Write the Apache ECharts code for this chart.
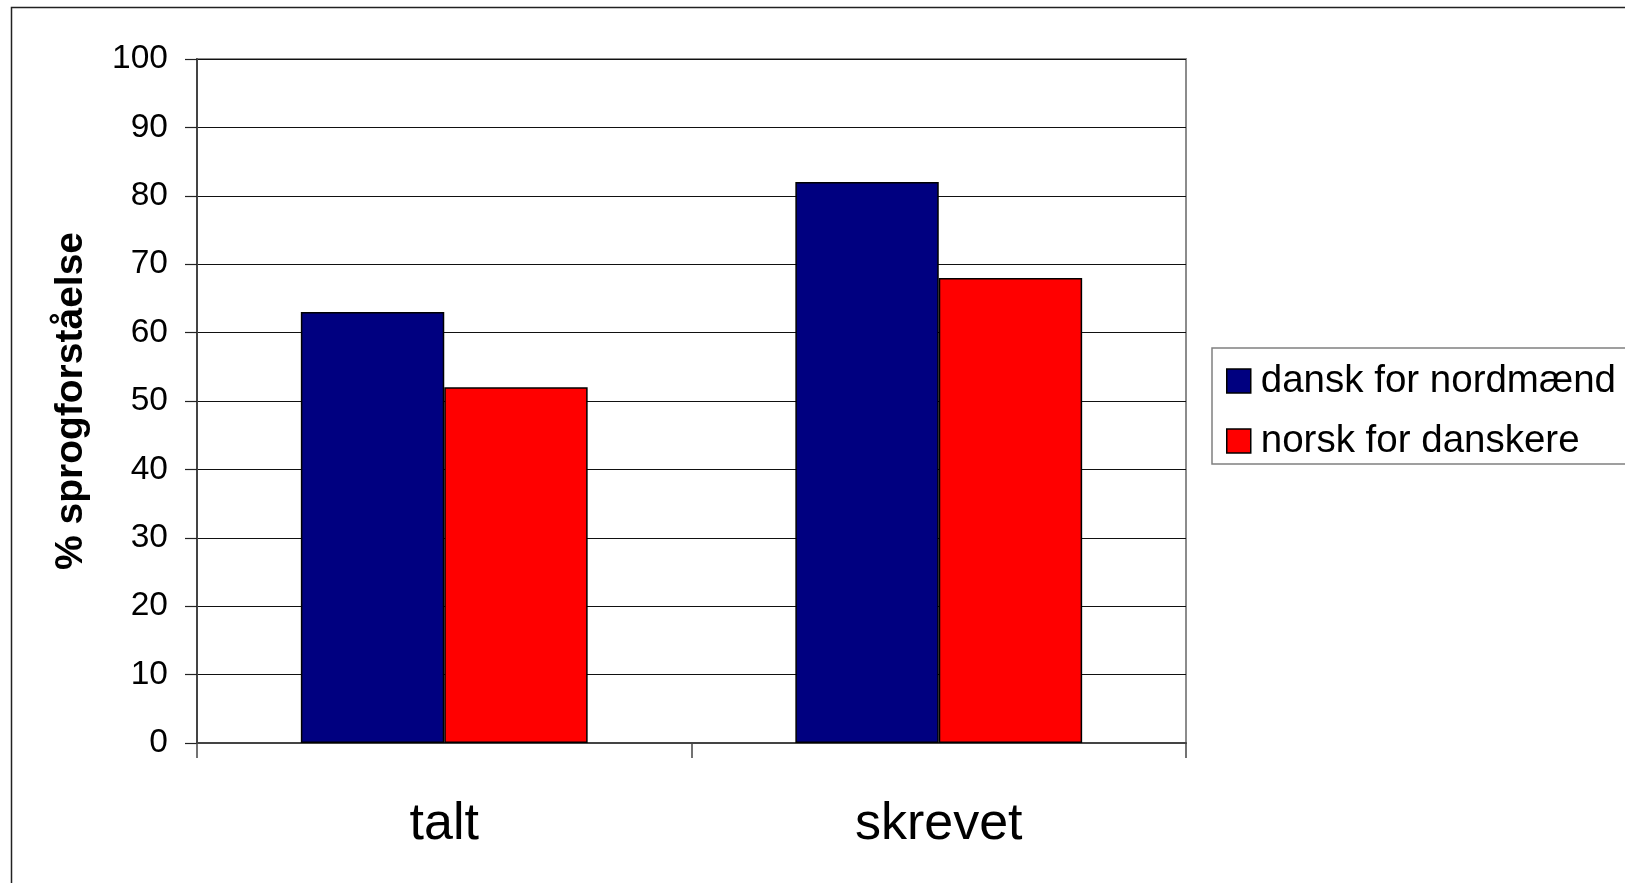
<!DOCTYPE html>
<html>
<head>
<meta charset="utf-8">
<script src="https://cdn.jsdelivr.net/npm/echarts@6/dist/echarts.min.js"></script>
<style>
  html, body { margin: 0; padding: 0; background: #fff; }
  #chart { width: 1625px; height: 883px; }
</style>
</head>
<body>
<div id="chart"></div>
<script>
// Sprogforståelse: talt vs. skrevet
const categories = ['talt', 'skrevet'];
const seriesNames = ['dansk for nordmænd', 'norsk for danskere'];
const danskForNordmaend = [63, 82];
const norskForDanskere = [52, 68];
const yAxisTitle = '% sprogforståelse';

const FONT = '"Liberation Sans", Arial, Helvetica, sans-serif';

const chart = echarts.init(document.getElementById('chart'), null, { renderer: 'canvas' });

chart.setOption({
  backgroundColor: '#ffffff',
  animation: false,
  textStyle: { fontFamily: FONT, color: '#000' },
  graphic: [
    {
      // outer chart frame (runs past the right and bottom edges)
      type: 'rect',
      shape: { x: 11.5, y: 7.5, width: 2000, height: 2000 },
      style: { fill: 'none', stroke: '#222', lineWidth: 1.5 },
      silent: true,
      z: 0
    }
  ],
  grid: {
    left: 197,
    right: 439,
    top: 59,
    bottom: 140,
    show: true,
    borderColor: '#8c8c8c',
    borderWidth: 2,
    backgroundColor: 'transparent'
  },
  legend: {
    data: seriesNames,
    orient: 'vertical',
    left: 1212,
    top: 348,
    itemWidth: 24,
    itemHeight: 24,
    itemGap: 20,
    padding: [13, 30, 3, 14],
    borderColor: '#808080',
    borderWidth: 1.5,
    icon: 'rect',
    selectedMode: false,
    textStyle: {
      fontFamily: FONT,
      fontSize: 38.5,
      color: '#000',
      lineHeight: 40,
      padding: [0, 0, 0, 5]
    },
    itemStyle: { borderColor: '#000', borderWidth: 1.5 }
  },
  xAxis: {
    type: 'category',
    data: categories,
    axisLine: { show: true, lineStyle: { color: '#444', width: 2 } },
    axisTick: { show: true, length: 15, lineStyle: { color: '#444', width: 1.5 } },
    axisLabel: { fontFamily: FONT, fontSize: 52, color: '#000', margin: 56 },
    splitLine: { show: false }
  },
  yAxis: {
    type: 'value',
    min: 0,
    max: 100,
    interval: 10,
    name: yAxisTitle,
    nameLocation: 'middle',
    nameRotate: 90,
    nameGap: 106,
    nameTextStyle: { fontFamily: FONT, fontSize: 39, fontWeight: 'bold', color: '#000' },
    axisLine: { show: true, lineStyle: { color: '#444', width: 2 } },
    axisTick: { show: true, inside: false, length: 12, lineStyle: { color: '#222', width: 1.2 } },
    axisLabel: { fontFamily: FONT, fontSize: 33.5, color: '#000', margin: 29 },
    splitLine: { show: true, lineStyle: { color: '#111', width: 1.2 } }
  },
  series: [
    {
      name: seriesNames[0],
      type: 'bar',
      data: danskForNordmaend,
      barGap: '0%',
      barCategoryGap: '42%',
      itemStyle: { color: '#000080', borderColor: '#000', borderWidth: 1.5 },
      z: 3
    },
    {
      name: seriesNames[1],
      type: 'bar',
      data: norskForDanskere,
      barGap: '0%',
      barCategoryGap: '42%',
      itemStyle: { color: '#ff0000', borderColor: '#000', borderWidth: 1.5 },
      z: 3
    }
  ]
});
</script>
</body>
</html>
